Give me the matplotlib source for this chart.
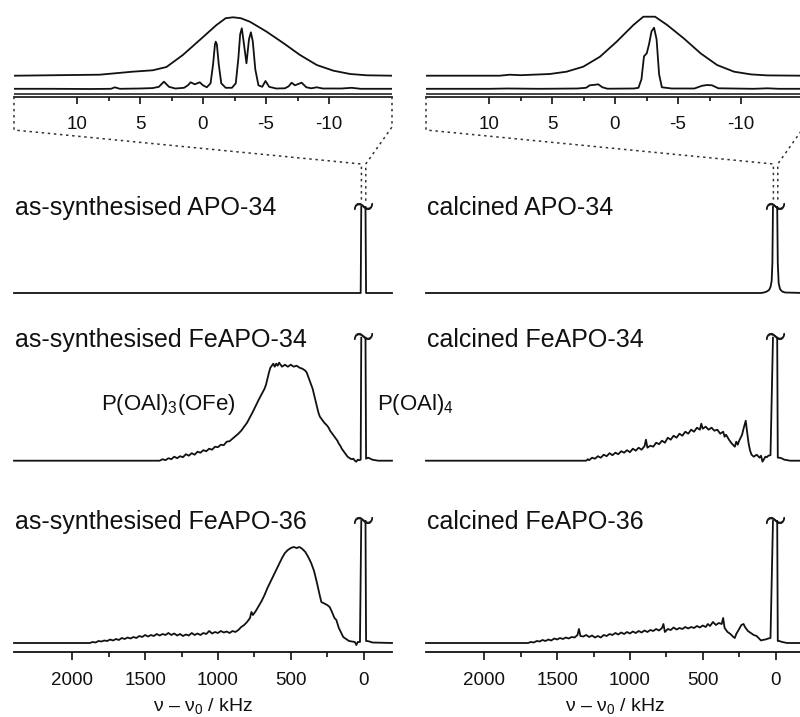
import numpy as np
import matplotlib
matplotlib.use('Agg')
import matplotlib.pyplot as plt
from matplotlib.lines import Line2D
from matplotlib.transforms import blended_transform_factory

plt.rcParams['font.family'] = ['Liberation Sans', 'DejaVu Sans']
plt.rcParams['mathtext.fontset'] = 'custom'
plt.rcParams['mathtext.rm'] = 'Liberation Sans'
plt.rcParams['mathtext.it'] = 'Liberation Sans:italic'
plt.rcParams['axes.unicode_minus'] = False

# ── data: (offset / kHz, intensity) pairs ───────────────────────────────────
# inset (expanded centre band), left = as-synthesised, right = calcined
L_INSET_STATIC = [(15, 0), (8.2, 1), (5.6, 4), (4.0, 5.4), (2.9, 8.7), (1.6, 20.7),
                  (0.26, 35.7), (-1.07, 50.7), (-1.8, 57.5), (-2.39, 58.4), (-3.0, 57.5),
                  (-3.72, 54), (-5.05, 44), (-6.37, 32.7), (-7.70, 20.7), (-9.03, 10.7),
                  (-10.35, 5), (-11.68, 1.7), (-13, 0.4), (-15, 0)]
L_INSET_MAS = [(15, 0.5), (12, 0.5), (9, 0.3), (7.3, 0.5), (7.0, 2), (6.6, 0.5), (5, 0.8),
               (4, 1.2), (3.5, 2.5), (3.1, 7.6), (2.7, 2.5), (2.2, 0.8), (1.5, 1.5), (1.2, 4),
               (0.98, 7), (0.65, 5), (0.26, 7), (0, 4), (-0.3, 2), (-0.6, 6), (-0.8, 25),
               (-0.95, 45), (-1.01, 47.6), (-1.1, 45), (-1.25, 25), (-1.45, 6), (-1.8, 1.5),
               (-2.3, 1.5), (-2.6, 6), (-2.8, 30), (-2.95, 55), (-3.08, 61), (-3.2, 50),
               (-3.45, 26), (-3.65, 50), (-3.8, 57), (-3.95, 48), (-4.15, 20), (-4.4, 4),
               (-4.7, 2.5), (-4.96, 8.3), (-5.25, 2.5), (-5.8, 0.8), (-6.5, 1), (-6.8, 3),
               (-7.03, 6.6), (-7.3, 4), (-7.5, 5), (-7.83, 6.6), (-8.2, 2), (-8.6, 1),
               (-9.03, 2), (-9.5, 0.8), (-11, 0.8), (-11.8, 1.5), (-12.5, 0.5), (-15, 0.5)]
R_INSET_STATIC = [(15, 0), (9.15, 0), (8.35, 1), (7.5, 0.5), (5.17, 1.7), (3.85, 4),
                  (2.52, 9), (1.19, 19), (-0.13, 34), (-1.46, 50.7), (-2.25, 59),
                  (-3.18, 59), (-4.14, 50.7), (-5.46, 37.3), (-6.8, 22.3), (-8.1, 10.7),
                  (-9.45, 4), (-10.8, 1.3), (-12.1, 0.3), (-15, 0)]
R_INSET_MAS = [(15, 0.5), (10, 0.5), (8.5, 0.8), (6, 0.5), (3, 0.8), (2.3, 1.5), (2.0, 4),
               (1.86, 4.2), (1.6, 4.5), (1.33, 5), (1.0, 2), (0.6, 0.6), (-1.5, 0.8),
               (-1.86, 1.5), (-2.1, 10), (-2.3, 33), (-2.52, 36), (-2.7, 45), (-2.9, 58),
               (-3.1, 61.6), (-3.3, 50), (-3.5, 15), (-3.72, 2), (-4.5, 0.8), (-6.3, 0.8),
               (-6.9, 3.5), (-7.3, 4.3), (-7.7, 4), (-8.2, 1), (-11, 0.5), (-12.1, 1),
               (-13, 0.5), (-15, 0.5)]

# full spectra; nan marks the clipped top of the central peak
L_APO34 = [(2400, 0), (20, 0), (16, 86), (np.nan, np.nan), (-13, 86), (-17, 0), (-195, 0)]
R_APO34 = [(2400, 0), (100, 0), (80, 0.5), (60, 1.5), (45, 3), (35, 6), (27, 12), (22, 30),
           (18, 86), (np.nan, np.nan), (-11, 86), (-15, 30), (-21, 10), (-30, 4), (-45, 1.5),
           (-65, 0.5), (-195, 0)]

L_FE34 = [(2400, 0), (1400, 0), (1380, 1.5), (1360, 0.5), (1340, 2.5), (1320, 1.5), (1300, 4),
          (1280, 2.5), (1260, 4.5), (1240, 3.5), (1220, 6.5), (1200, 5), (1180, 7.5),
          (1160, 6), (1140, 9), (1120, 8), (1100, 10.5), (1080, 9.5), (1060, 12),
          (1040, 11), (1020, 14), (1000, 13.5), (980, 16), (960, 15.5), (940, 19),
          (920, 19.5), (900, 22), (880, 24.5), (860, 27), (840, 30), (820, 34), (800, 38),
          (780, 43.5), (760, 49), (740, 55), (720, 61), (700, 66.5), (680, 72), (670, 76),
          (660, 82), (650, 88), (640, 93), (630, 95), (620, 97), (610, 94), (600, 97),
          (590, 95), (580, 98), (560, 94), (540, 96), (520, 94), (500, 96), (480, 94),
          (460, 95), (440, 93), (420, 92), (400, 90), (390, 88), (380, 84), (370, 80),
          (360, 76), (350, 72), (340, 66), (330, 60), (320, 54), (310, 48), (300, 44),
          (290, 42), (280, 40), (270, 38), (260, 36.5), (250, 35), (240, 33), (230, 30),
          (220, 28), (210, 26), (200, 24), (190, 22), (180, 20), (170, 17), (160, 15),
          (150, 12), (140, 10), (130, 8), (120, 6), (110, 4), (100, 3), (90, 2), (80, 1.5),
          (70, 2), (60, 0), (50, -1), (40, 1), (30, 0.5), (20, 1), (16, 123),
          (np.nan, np.nan), (-13, 123), (-17, 2), (-30, 3), (-40, 2.5), (-60, 1),
          (-80, 0.5), (-100, 0), (-195, 0)]
R_FE34 = [(2400, 0), (1300, 0), (1290, 1.5), (1280, 0.5), (1260, 3), (1240, 2), (1220, 4.5),
          (1200, 3), (1180, 6), (1160, 4.5), (1140, 7.5), (1120, 5.5), (1100, 8), (1080, 6.5),
          (1060, 9.5), (1040, 8), (1020, 10.5), (1000, 8.5), (980, 12), (960, 10),
          (940, 13), (920, 11), (900, 14.5), (890, 21), (880, 13), (860, 15), (840, 14),
          (820, 18), (800, 16.5), (780, 20), (760, 18), (740, 23), (720, 21), (700, 25),
          (680, 23), (660, 27), (640, 25), (620, 29), (600, 27), (580, 31), (560, 29),
          (540, 33), (520, 31), (510, 37), (500, 32), (480, 34), (460, 31), (440, 33),
          (420, 30), (400, 31), (380, 27), (360, 29), (350, 24), (340, 26), (320, 21),
          (300, 17), (280, 14), (270, 19), (260, 16), (250, 20), (240, 23), (230, 26),
          (220, 32), (205, 40), (195, 28), (185, 17), (175, 10), (165, 6), (150, 4),
          (130, 6), (110, 3), (100, 5), (90, -1), (80, 1.5), (70, 4), (60, 3.5), (50, 5),
          (35, 5.5), (18, 123), (np.nan, np.nan), (-11, 123), (-15, 3), (-25, 3),
          (-40, 2.5), (-60, 1), (-100, 0), (-195, 0)]

L_FE36 = [(2400, 0), (1880, 0), (1860, 1), (1840, 0.5), (1820, 2), (1800, 1.5), (1780, 2.5),
          (1760, 2), (1740, 3.5), (1720, 2.5), (1700, 4), (1680, 3), (1660, 5), (1640, 4),
          (1620, 5.5), (1600, 4.5), (1580, 6), (1560, 5), (1540, 7), (1520, 6), (1500, 8),
          (1480, 6.5), (1460, 8), (1440, 7), (1420, 9), (1400, 7.5), (1380, 9), (1360, 8),
          (1340, 10), (1320, 8), (1300, 9.5), (1280, 7.5), (1260, 9), (1240, 7),
          (1220, 8.5), (1200, 7.5), (1180, 10), (1160, 8), (1140, 9.5), (1120, 8),
          (1100, 10), (1080, 9), (1060, 12), (1040, 9.5), (1020, 11), (1000, 10),
          (980, 12), (960, 10.5), (940, 11.5), (920, 10), (900, 12), (880, 11), (860, 13),
          (840, 16), (820, 18), (800, 21), (780, 25), (770, 31), (760, 28), (740, 32),
          (720, 37), (700, 42), (680, 48), (660, 55), (640, 61), (620, 67), (600, 73),
          (580, 79), (560, 85), (540, 90), (520, 93), (500, 95), (480, 96), (460, 95),
          (440, 96), (420, 94), (400, 91), (380, 86), (360, 80), (340, 72), (320, 60),
          (300, 47), (290, 41), (270, 39.5), (250, 38), (233, 36), (220, 32), (200, 25),
          (187, 23), (170, 15), (153, 10), (140, 6), (120, 4), (100, 2), (80, 1.5),
          (60, 1), (50, -2), (40, 1), (25, 1), (16, 122), (np.nan, np.nan), (-13, 122),
          (-17, 2), (-25, 2), (-40, 1.5), (-60, 0.5), (-195, 0)]
R_FE36 = [(2400, 0), (1700, 0), (1680, 1), (1660, 0.5), (1640, 2), (1620, 1.5), (1600, 3),
          (1580, 2), (1560, 3.5), (1540, 2.5), (1520, 4.5), (1500, 3.5), (1480, 5),
          (1460, 4), (1440, 5.5), (1420, 4.5), (1400, 6), (1380, 5.5), (1360, 8),
          (1350, 14), (1340, 7), (1320, 6.5), (1300, 8), (1280, 6), (1260, 7.5),
          (1240, 5.5), (1220, 7), (1200, 5.5), (1180, 8), (1160, 7), (1140, 9), (1120, 8),
          (1100, 10), (1080, 8.5), (1060, 10.5), (1040, 9), (1020, 11), (1000, 9.5),
          (980, 11.5), (960, 10), (940, 12), (920, 10.5), (900, 12.5), (880, 11),
          (860, 13), (840, 12), (820, 14), (800, 12.5), (780, 15), (770, 19), (760, 11),
          (740, 14), (720, 13), (700, 15.5), (680, 13.5), (660, 15), (640, 14), (620, 16),
          (600, 14.5), (580, 16), (560, 15), (540, 17), (520, 15.5), (500, 17.5),
          (480, 16), (465, 19), (450, 17), (430, 21), (410, 18), (390, 20), (370, 19),
          (360, 25), (350, 15), (330, 11), (310, 9), (290, 6), (280, 5), (270, 9),
          (250, 14), (235, 18), (220, 19), (210, 16), (190, 12), (170, 10), (150, 8),
          (130, 7), (110, 4), (100, 2.5), (90, 3), (70, 3.5), (50, 4.5), (35, 5),
          (18, 122), (np.nan, np.nan), (-11, 122), (-15, 2), (-25, 2), (-45, 1),
          (-80, 0), (-195, 0)]

LEFT_LABELS = ['as-synthesised APO-34', 'as-synthesised FeAPO-34', 'as-synthesised FeAPO-36']
RIGHT_LABELS = ['calcined APO-34', 'calcined FeAPO-34', 'calcined FeAPO-36']
MAIN_TICKS = [2000, 1500, 1000, 500, 0]
MAIN_MINOR = [1750, 1250, 750, 250]
INSET_TICKS = [10, 5, 0, -5, -10]
INSET_MINOR = [7.5, 2.5, -2.5, -7.5]

# ── layout (figure pixels, 800 x 717) ────────────────────────────────────────
W, H = 800, 717
MAIN_TOP, MAIN_BOT = 130, 652
INSET_BOT = 96.7
STACK_OFF = [359, 191.3, 9]          # baselines of the three rows
LABEL_Y = [437, 305, 122.7]          # label baselines
INSET_OFF = (21, 7.4)                # static / MAS baselines in the inset
COL_X = [14, 426]
COL_W = 378
INK = '#111111'


def fy(px):
    return 1 - px / H


def xy(pairs):
    a = np.array(pairs, dtype=float)
    return a[:, 0], a[:, 1]


def style_axis(ax):
    for s in ('top', 'left', 'right'):
        ax.spines[s].set_visible(False)
    ax.set_yticks([])
    ax.patch.set_alpha(0)


def draw_column(fig, x0, inset_static, inset_mas, spectra, labels, annotate=False):
    ax = fig.add_axes([x0 / W, fy(MAIN_BOT), COL_W / W, (MAIN_BOT - MAIN_TOP) / H])
    ins = fig.add_axes([x0 / W, fy(INSET_BOT), COL_W / W, INSET_BOT / H])

    # main stacked spectra
    ax.set_xlim(2400, -195)
    ax.set_ylim(0, MAIN_BOT - MAIN_TOP)
    style_axis(ax)
    ax.spines['bottom'].set_linewidth(1.3)
    ax.spines['bottom'].set_color(INK)
    ax.set_xticks(MAIN_TICKS)
    ax.set_xticks(MAIN_MINOR, minor=True)
    ax.tick_params(axis='x', which='major', length=6, width=1.2, labelsize=13.5, pad=8.5,
                   color=INK, labelcolor=INK)
    ax.tick_params(axis='x', which='minor', length=3.8, width=1.2, color=INK)
    ax.set_xlabel('\u03bd \u2013 \u03bd$_0$ / kHz', fontsize=14, labelpad=5, color=INK)

    tr = blended_transform_factory(ax.transAxes, ax.transData)
    tops = []
    for pairs, off, lab, ly in zip(spectra, STACK_OFF, labels, LABEL_Y):
        x, y = xy(pairs)
        ax.plot(x, y + off, color=INK, lw=1.3, clip_on=False)
        top = np.nanmax(y)
        xc = np.nanmean(x[y == top])
        ax.plot([xc], [top + off + 1.5], marker=r'$\sim$', ms=13, color=INK,
                mew=0.6, clip_on=False)
        tops.append(top + off)
        ax.text(0.003, ly, lab, transform=tr, fontsize=18, va='baseline', ha='left',
                color=INK)

    if annotate:
        ax.text(1800, 242, 'P(OAl)$_3$(OFe)', fontsize=16, va='baseline', color=INK)
        ax.text(-89, 242, 'P(OAl)$_4$', fontsize=16, va='baseline', color=INK,
                clip_on=False)

    # inset: expanded view of the centre band
    ins.set_xlim(15, -15)
    ins.set_ylim(0, INSET_BOT)
    style_axis(ins)
    ins.spines['bottom'].set_linewidth(1.2)
    ins.spines['bottom'].set_color(INK)
    ins.axhline(2.5, color=INK, lw=1.1)
    ins.set_xticks(INSET_TICKS)
    ins.set_xticklabels([str(t) for t in INSET_TICKS])
    ins.set_xticks(INSET_MINOR, minor=True)
    ins.tick_params(axis='x', which='major', length=5, width=1.2, labelsize=13.5, pad=9,
                    color=INK, labelcolor=INK)
    ins.tick_params(axis='x', which='minor', length=3, width=1.2, color=INK)
    for pairs, off in zip((inset_static, inset_mas), INSET_OFF):
        x, y = xy(pairs)
        ins.plot(x, y + off, color=INK, lw=1.3)

    return ax, ins, tops[0]


fig = plt.figure(figsize=(W / 100, H / 100), dpi=100, facecolor='white')

cols = [
    draw_column(fig, COL_X[0], L_INSET_STATIC, L_INSET_MAS,
                [L_APO34, L_FE34, L_FE36], LEFT_LABELS, annotate=True),
    draw_column(fig, COL_X[1], R_INSET_STATIC, R_INSET_MAS,
                [R_APO34, R_FE34, R_FE36], RIGHT_LABELS),
]

# dotted zoom connectors from the inset edges down to the clipped centre peak
fig.canvas.draw()
inv = fig.transFigure.inverted()
for ax, ins, top in cols:
    for edge, knee_px in ((15, 130), (-15, 127)):
        a = ins.transData.transform((edge, 0))
        b = ax.transData.transform((edge, MAIN_BOT - 164))
        c = ax.transData.transform((edge, top + 6))
        pts = np.array([a, (a[0], H - knee_px), b, c])
        pts = inv.transform(pts)
        fig.add_artist(Line2D(pts[:, 0], pts[:, 1], transform=fig.transFigure,
                              color='#333333', lw=1.1, ls=(0, (1.6, 2.4))))

fig.savefig('out.png', dpi=100, facecolor='white')
